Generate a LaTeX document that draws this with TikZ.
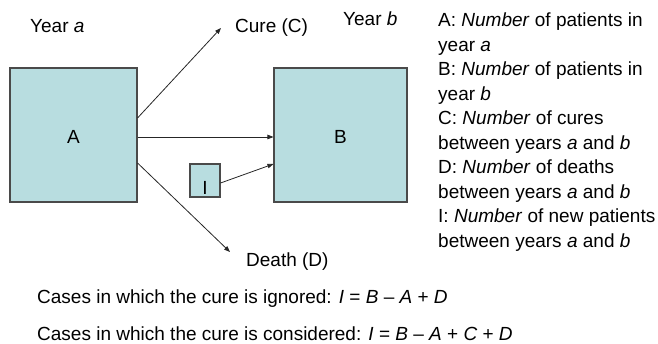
\documentclass[tikz,border=0pt]{standalone}
\usepackage{fontspec}
\setmainfont{Liberation Sans}
\usetikzlibrary{positioning,arrows.meta}
\definecolor{stockfill}{HTML}{B8DDE0}
\definecolor{stockline}{HTML}{4A4A4A}
\tikzset{
  stock/.style = {rectangle, draw=stockline, fill=stockfill, line width=1.1pt,
                  inner sep=0pt, font=\fontsize{19}{24.5}\selectfont},
  flow/.style  = {-{Triangle[length=6pt,width=4.5pt]}, line width=0.8pt, draw=black!85},
  lbl/.style   = {font=\fontsize{19}{24.5}\selectfont, inner sep=0pt},
}

\begin{document}
\begin{tikzpicture}[x=1pt,y=-1pt]
  \useasboundingbox (0,0) rectangle (658,344);
  \node[stock, minimum width=127pt, minimum height=134pt, text height=17.6pt, text depth=0pt] (A) at (73.5,135) {A};
  \node[stock, minimum width=133pt, minimum height=134pt, text height=17.6pt, text depth=0pt] (B) at (340.5,135) {B};
  \node[stock, minimum width=30pt, minimum height=33pt,
        label={[lbl,anchor=south,yshift=3pt]south:I}] (I) at (205,180.5) {};

  \node[lbl, anchor=base west] (yeara) at (30,33) {Year \textit{a}};
  \node[lbl, anchor=base west] (cure) at (235,33) {Cure (C)};
  \node[lbl, anchor=base west] (yearb) at (343,26) {Year \textit{b}};
  \node[lbl, anchor=base west] (death) at (246,267) {Death (D)};
  \node[lbl, anchor=north west, align=left] (legend) at (438,13) {%
    A: \textit{Number} of patients in\\year \textit{a}\\
    B: \textit{Number} of patients in\\year \textit{b}\\
    C: \textit{Number} of cures\\between years \textit{a} and \textit{b}\\
    D: \textit{Number} of deaths\\between years \textit{a} and \textit{b}\\
    I: \textit{Number} of new patients\\between years \textit{a} and \textit{b}};

  \node[lbl, anchor=base west] (ignored) at (37,304)
    {Cases in which the cure is ignored: \textit{I} = \textit{B} – \textit{A} + \textit{D}};
  \node[lbl, anchor=base west] (considered) at (37,341)
    {Cases in which the cure is considered: \textit{I} = \textit{B} – \textit{A} + \textit{C} + \textit{D}};

  \coordinate (cureend) at (221,28);
  \coordinate (deathend) at (230,252);
  \draw[flow] ([yshift=17pt]A.east) -- (cureend);
  \draw[flow] ([yshift=-2pt]A.east) -- ([yshift=-2pt]B.west);
  \draw[flow] ([yshift=-28pt]A.east) -- (deathend);
  \draw[flow] ([yshift=-2.5pt]I.east) -- ([yshift=-29pt]B.west);
\end{tikzpicture}
\end{document}
